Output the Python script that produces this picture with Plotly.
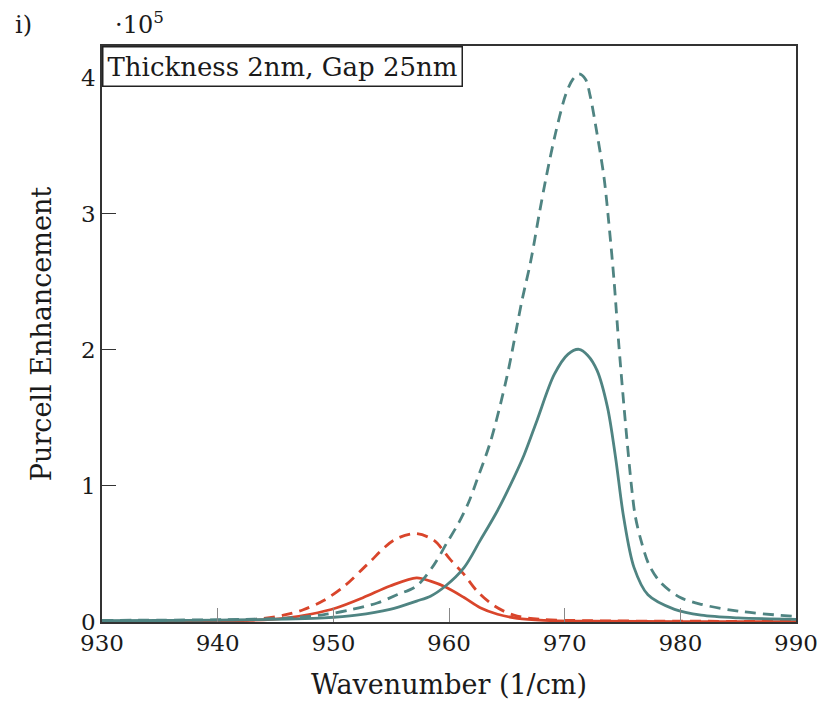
import plotly.graph_objects as go

# Wavenumber (1/cm) and Purcell enhancement (in units of 1e5)
teal_dash_x = [930, 935, 940.5, 946.3, 949.2, 951.5, 953.8, 955.5, 957.2, 958.7, 959.8, 960.85, 961.7,
               962.4, 963.6, 965.0, 966.3, 967.06, 967.8, 968.4, 969.2, 970.1, 970.7, 971.24, 971.8,
               972.2, 972.8, 973.4, 973.8, 974.25, 974.7, 975.3, 975.8, 976.1, 976.6, 977.3, 978.3,
               980.0, 981.8, 985, 990]
teal_dash_y = [0.012, 0.014, 0.017, 0.03, 0.054, 0.09, 0.14, 0.20, 0.265, 0.42, 0.58, 0.73, 0.88,
               1.04, 1.33, 1.80, 2.36, 2.65, 3.0, 3.27, 3.59, 3.88, 3.99, 4.03, 3.99,
               3.87, 3.59, 3.27, 2.95, 2.53, 2.02, 1.42, 0.98, 0.78, 0.60, 0.42, 0.29,
               0.18, 0.13, 0.08, 0.04]

teal_solid_x = [930, 935, 940, 943.4, 946, 949.2, 952.0, 954.9, 957.2, 958.4, 959.7, 961.3, 962.7,
                964.2, 965.6, 966.5, 967.6, 969.1, 970.3, 971.24, 972.0, 972.8, 973.7, 974.4,
                975.1, 976.0, 977.2, 979.5, 981.8, 985, 990]
teal_solid_y = [0.01, 0.011, 0.014, 0.017, 0.022, 0.03, 0.05, 0.093, 0.154, 0.19, 0.265, 0.40, 0.60,
                0.82, 1.06, 1.23, 1.48, 1.82, 1.97, 2.005, 1.96, 1.85, 1.58, 1.21,
                0.77, 0.40, 0.20, 0.093, 0.05, 0.03, 0.02]

red_dash_x = [930, 935, 940, 941.9, 943.96, 945.7, 947.4, 949.2, 950.9, 952.9, 955.2, 957.1, 958.7,
              960.1, 961.3, 962.4, 963.9, 965.6, 967.9, 972, 980, 990]
red_dash_y = [0.004, 0.006, 0.009, 0.012, 0.027, 0.05, 0.09, 0.16, 0.26, 0.42, 0.60, 0.65, 0.60,
              0.46, 0.35, 0.23, 0.12, 0.05, 0.02, 0.01, 0.006, 0.004]

red_solid_x = [930, 935, 940, 942.8, 945.7, 948.0, 950.3, 952.6, 954.9, 957.2, 958.4, 959.7, 961.3,
               962.7, 964.2, 965.9, 968.2, 972, 980, 990]
red_solid_y = [0.002, 0.004, 0.007, 0.012, 0.027, 0.057, 0.105, 0.18, 0.265, 0.325, 0.30, 0.257, 0.18,
               0.105, 0.057, 0.027, 0.012, 0.006, 0.003, 0.002]

x_ticks = [930, 940, 950, 960, 970, 980, 990]
y_ticks = [0, 1, 2, 3, 4]

TEAL = "#4f8482"
RED = "#d9452b"
FONT = "DejaVu Serif"
TXT = "#1a1a1a"

fig = go.Figure()
fig.add_trace(go.Scatter(x=red_solid_x, y=red_solid_y, mode="lines",
                         line=dict(color=RED, width=2.8, shape="spline", smoothing=0.9)))
fig.add_trace(go.Scatter(x=red_dash_x, y=red_dash_y, mode="lines",
                         line=dict(color=RED, width=2.8, dash="11px,7px", shape="spline", smoothing=0.9)))
fig.add_trace(go.Scatter(x=teal_solid_x, y=teal_solid_y, mode="lines",
                         line=dict(color=TEAL, width=2.8, shape="spline", smoothing=0.9)))
fig.add_trace(go.Scatter(x=teal_dash_x, y=teal_dash_y, mode="lines",
                         line=dict(color=TEAL, width=2.8, dash="11px,7px", shape="spline", smoothing=0.9)))

fig.update_layout(
    width=829, height=714,
    margin=dict(l=94, r=41, t=38, b=100),
    paper_bgcolor="white", plot_bgcolor="white",
    showlegend=False,
    font=dict(family=FONT, size=23, color=TXT),
    xaxis=dict(range=[930, 990], tickvals=x_ticks, ticktext=[str(v) for v in x_ticks],
               ticks="inside", ticklen=14, tickwidth=1.2, tickcolor="#888",
               tickfont=dict(family=FONT, size=23, color=TXT),
               showline=True, linecolor="#333", linewidth=1.5, mirror=True,
               showgrid=False, zeroline=False,
               title=dict(text="Wavenumber (1/cm)", font=dict(family=FONT, size=27, color=TXT), standoff=20)),
    yaxis=dict(range=[0, 4.235], tickvals=y_ticks, ticktext=[str(v) for v in y_ticks],
               ticks="inside", ticklen=14, tickwidth=1.2, tickcolor="#333",
               tickfont=dict(family=FONT, size=23, color=TXT),
               showline=True, linecolor="#333", linewidth=1.5, mirror=True,
               showgrid=False, zeroline=False,
               title=dict(text="Purcell Enhancement", font=dict(family=FONT, size=27, color=TXT), standoff=22)),
    annotations=[
        dict(text="Thickness 2nm, Gap 25nm", xref="paper", yref="paper", x=0, y=1,
             xanchor="left", yanchor="top", showarrow=False, bgcolor="white",
             bordercolor="#222", borderwidth=1.5, borderpad=4,
             font=dict(family=FONT, size=26, color=TXT)),
        dict(text="·10<sup>5</sup>", xref="paper", yref="paper", x=0.016, y=1.04,
             xanchor="left", yanchor="middle", showarrow=False,
             font=dict(family=FONT, size=24, color=TXT)),
        dict(text="i)", xref="paper", yref="paper", x=-0.128, y=1.036,
             xanchor="left", yanchor="middle", showarrow=False,
             font=dict(family=FONT, size=24, color=TXT)),
    ],
)

fig.write_html("out.html")
